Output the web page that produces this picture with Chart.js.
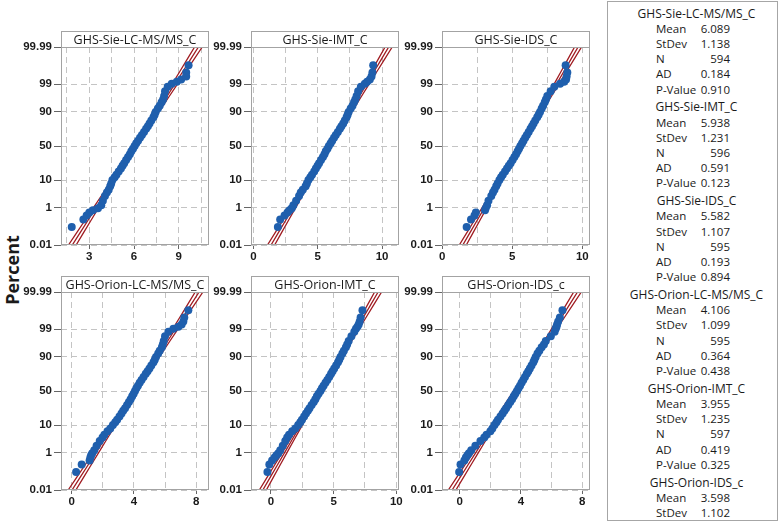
<!DOCTYPE html>
<html>
<head>
<meta charset="utf-8">
<script src="https://cdn.jsdelivr.net/npm/chart.js@4.4.1/dist/chart.umd.min.js"></script>
<style>
  body { margin: 0; background: #fff; }
  #page { position: relative; width: 778px; height: 523px; overflow: hidden; font-family: 'Open Sans', sans-serif; color: #1a1a1a; }
  #page canvas { position: absolute; }
  #ylabel { position: absolute; left: 12px; top: 270px; transform: translate(-50%, -50%) rotate(-90deg); font: bold 18px 'Open Sans', sans-serif; white-space: nowrap; }
  #stats { position: absolute; left: 607px; top: 1px; width: 169px; height: 518px; border: 1px solid #a6a6a6; overflow: hidden; font-size: 11.5px; }
  #stats div { position: absolute; height: 15px; line-height: 15px; white-space: nowrap; }
  #stats div.ttl { font-size: 12px; }
</style>
</head>
<body>
<div id="page">
  <div id="ylabel">Percent</div>
  <div id="stats"></div>
</div>
<script>
// series names and the summary table
const seriesNames = ['GHS-Sie-LC-MS/MS_C', 'GHS-Sie-IMT_C', 'GHS-Sie-IDS_C', 'GHS-Orion-LC-MS/MS_C', 'GHS-Orion-IMT_C', 'GHS-Orion-IDS_c'];
const statMean = [6.089, 5.938, 5.582, 4.106, 3.955, 3.598];
const statStDev = [1.138, 1.231, 1.107, 1.099, 1.235, 1.102];
const statN = [594, 596, 595, 595, 597, null];
const statAD = [0.184, 0.591, 0.193, 0.364, 0.419, null];
const statP = [0.910, 0.123, 0.894, 0.438, 0.325, null];

// probability axis
const yTickPct = [0.01, 1, 10, 50, 90, 99, 99.99];
const yTickLabels = ['0.01', '1', '10', '50', '90', '99', '99.99'];

// x axis labels per panel
const xTickLabels = [[3, 6, 9], [0, 5, 10], [0, 5, 10], [0, 4, 8], [0, 5, 10], [0, 4, 8]];

const pctLevels = [0.118, 0.286, 0.454, 0.622, 0.79, 0.96, 1.3, 2, 3, 4, 5, 6.5, 8, 10, 12, 14, 17, 20, 23, 26,
  30, 34, 38, 42, 46, 50, 54, 58, 62, 66, 70, 74, 77, 80, 83, 86, 88, 90, 92, 93.5,
  95, 96, 97, 98, 98.7, 99.04, 99.21, 99.38, 99.55, 99.71, 99.88];

const sieLcValues = [1.82, 2.6, 2.82, 3.0, 3.24, 3.58, 3.8, 3.91, 4.05, 4.18, 4.3, 4.4, 4.47, 4.55, 4.7, 4.82, 4.97, 5.12, 5.23, 5.34,
  5.47, 5.6, 5.72, 5.82, 5.93, 6.04, 6.15, 6.27, 6.4, 6.53, 6.67, 6.81, 6.93, 7.04, 7.16, 7.3, 7.38, 7.45, 7.6, 7.72,
  7.85, 7.95, 8.02, 8.08, 8.26, 8.53, 8.87, 9.16, 9.5, 9.5, 9.66];
const sieImtValues = [1.89, 2.07, 2.41, 2.64, 2.8, 2.97, 3.1, 3.31, 3.54, 3.67, 3.83, 4.05, 4.15, 4.27, 4.42, 4.55, 4.72, 4.85, 4.98, 5.1,
  5.25, 5.4, 5.52, 5.62, 5.75, 5.86, 6.0, 6.12, 6.26, 6.4, 6.56, 6.72, 6.84, 6.98, 7.1, 7.24, 7.32, 7.4, 7.56, 7.7,
  7.82, 7.92, 8.02, 8.14, 8.35, 8.66, 8.84, 9.05, 9.18, 9.25, 9.31];
const sieIdsValues = [1.74, 2.05, 2.3, 2.4, 3.05, 3.1, 3.2, 3.3, 3.5, 3.62, 3.73, 3.85, 3.95, 4.08, 4.2, 4.32, 4.48, 4.62, 4.75, 4.88,
  5.02, 5.15, 5.27, 5.38, 5.48, 5.58, 5.7, 5.8, 5.92, 6.04, 6.17, 6.3, 6.41, 6.52, 6.64, 6.78, 6.88, 6.98, 7.1, 7.2,
  7.32, 7.4, 7.5, 7.74, 8.0, 8.41, 8.7, 8.84, 8.88, 8.93, 8.81];
const orionLcValues = [0.28, 0.64, 1.15, 1.2, 1.25, 1.32, 1.45, 1.6, 1.8, 1.98, 2.1, 2.3, 2.48, 2.65, 2.8, 2.92, 3.07, 3.2, 3.31, 3.43,
  3.56, 3.68, 3.79, 3.89, 3.98, 4.07, 4.16, 4.26, 4.37, 4.49, 4.62, 4.76, 4.88, 5.0, 5.12, 5.26, 5.34, 5.42, 5.56, 5.66,
  5.8, 5.86, 5.92, 6.0, 6.22, 6.54, 6.86, 7.07, 7.18, 7.24, 7.5];
const orionImtValues = [-0.27, -0.12, 0.1, 0.3, 0.45, 0.6, 0.75, 0.95, 1.15, 1.3, 1.45, 1.7, 1.95, 2.18, 2.35, 2.48, 2.65, 2.8, 2.95, 3.08,
  3.25, 3.42, 3.55, 3.67, 3.8, 3.95, 4.07, 4.2, 4.35, 4.5, 4.65, 4.8, 4.92, 5.05, 5.2, 5.35, 5.45, 5.55, 5.7, 5.82,
  5.98, 6.08, 6.2, 6.42, 6.65, 6.78, 6.9, 7.0, 7.08, 7.15, 7.3];
const orionIdsValues = [-0.04, 0.05, 0.3, 0.4, 0.5, 0.6, 0.75, 1.02, 1.35, 1.6, 1.75, 2.0, 2.13, 2.27, 2.4, 2.5, 2.66, 2.8, 2.92, 3.03,
  3.17, 3.3, 3.42, 3.53, 3.63, 3.74, 3.84, 3.94, 4.04, 4.15, 4.26, 4.38, 4.48, 4.58, 4.69, 4.81, 4.88, 4.96, 5.08, 5.2,
  5.35, 5.5, 5.62, 5.95, 6.2, 6.27, 6.32, 6.36, 6.43, 6.54, 6.71];

const panelValues = [sieLcValues, sieImtValues, sieIdsValues, orionLcValues, orionImtValues, orionIdsValues];

// layout
const colLeft = [61, 251, 442];
const rowTop = [47, 292];
const plotW = 148, plotH = 198;
const padL = 52, padT = 18, padR = 10, padB = 24;
const xRange = [[1.1, 11.03], [-0.2, 11.32], [-0.02, 10.55], [-0.69, 8.83], [-1.58, 10.21], [-1.16, 8.51]];
const tickFont = "'Liberation Sans', Arial, sans-serif";

// inverse normal cdf (Acklam) for the probability scale
function probit(p) {
  const a = [-3.969683028665376e+01, 2.209460984245205e+02, -2.759285104469687e+02, 1.383577518672690e+02, -3.066479806614716e+01, 2.506628277459239e+00];
  const b = [-5.447609879822406e+01, 1.615858368580409e+02, -1.556989798598866e+02, 6.680131188771972e+01, -1.328068155288572e+01];
  const c = [-7.784894002430293e-03, -3.223964580411365e-01, -2.400758277161838e+00, -2.549732539343734e+00, 4.374664141464968e+00, 2.938163982698783e+00];
  const d = [7.784695709041462e-03, 3.224671290700398e-01, 2.445134137142996e+00, 3.754408661907416e+00];
  const plow = 0.02425;
  let q, r;
  if (p < plow) {
    q = Math.sqrt(-2 * Math.log(p));
    return (((((c[0] * q + c[1]) * q + c[2]) * q + c[3]) * q + c[4]) * q + c[5]) / ((((d[0] * q + d[1]) * q + d[2]) * q + d[3]) * q + 1);
  }
  if (p <= 1 - plow) {
    q = p - 0.5; r = q * q;
    return (((((a[0] * r + a[1]) * r + a[2]) * r + a[3]) * r + a[4]) * r + a[5]) * q / (((((b[0] * r + b[1]) * r + b[2]) * r + b[3]) * r + b[4]) * r + 1);
  }
  q = Math.sqrt(-2 * Math.log(1 - p));
  return -(((((c[0] * q + c[1]) * q + c[2]) * q + c[3]) * q + c[4]) * q + c[5]) / ((((d[0] * q + d[1]) * q + d[2]) * q + d[3]) * q + 1);
}

const zMin = probit(0.0001), zMax = probit(0.9999);

// frame + title bar
const framePlugin = {
  id: 'frame',
  afterDraw(chart, args, opts) {
    const ctx = chart.ctx, a = chart.chartArea;
    const l = Math.round(a.left) + 0.5, t = Math.round(a.top) + 0.5;
    const w = Math.round(a.width) - 1, h = Math.round(a.height) - 1;
    const th = 16;
    ctx.save();
    ctx.strokeStyle = '#a3a3a3';
    ctx.lineWidth = 1;
    ctx.strokeRect(l, t, w, h);
    ctx.strokeRect(l, t - th, w, th);
    ctx.fillStyle = '#1a1a1a';
    ctx.font = "12.5px 'Open Sans', sans-serif";
    ctx.textAlign = 'center';
    ctx.textBaseline = 'middle';
    ctx.fillText(opts.text, a.left + a.width / 2, a.top - th / 2 + 1);
    ctx.restore();
  }
};

const page = document.getElementById('page');

for (let i = 0; i < 6; i++) {
  const col = i % 3, row = Math.floor(i / 3);
  const canvas = document.createElement('canvas');
  canvas.width = padL + plotW + padR;
  canvas.height = padT + plotH + padB;
  canvas.style.left = (colLeft[col] - padL) + 'px';
  canvas.style.top = (rowTop[row] - padT) + 'px';
  page.appendChild(canvas);

  const majors = xTickLabels[i];
  const step = (majors[1] - majors[0]) / 2;
  const [xmin, xmax] = xRange[i];
  const gridVals = [];
  for (let v = Math.ceil(xmin / step) * step; v <= xmax; v += step) gridVals.push(+v.toFixed(4));

  const points = pctLevels.map((p, k) => ({ x: panelValues[i][k], y: probit(p / 100) }));

  // fitted normal line and 95% band from the table values
  const m = statMean[i], s = statStDev[i], n = statN[i] || 595;
  const zs = [];
  for (let k = 0; k <= 16; k++) zs.push(zMin + (zMax - zMin) * k / 16);
  const fit = zs.map(z => ({ x: m + s * z, y: z }));
  const lo = zs.map(z => ({ x: m + s * z - 1.96 * s * Math.sqrt((1 + z * z / 2) / n), y: z }));
  const hi = zs.map(z => ({ x: m + s * z + 1.96 * s * Math.sqrt((1 + z * z / 2) / n), y: z }));
  const lineStyle = { showLine: true, pointRadius: 0, borderColor: '#a01c22', borderWidth: 1.3, clip: 0 };

  new Chart(canvas, {
    type: 'scatter',
    data: {
      datasets: [
        { data: points, pointRadius: 4, pointBackgroundColor: '#1f5fad', pointBorderWidth: 0, clip: 0 },
        Object.assign({ data: fit }, lineStyle),
        Object.assign({ data: lo }, lineStyle),
        Object.assign({ data: hi }, lineStyle)
      ]
    },
    options: {
      responsive: false,
      animation: false,
      devicePixelRatio: 1,
      layout: { padding: { left: 0, top: padT, right: padR, bottom: 0 } },
      plugins: {
        legend: { display: false },
        tooltip: { enabled: false },
        frame: { text: seriesNames[i] }
      },
      scales: {
        x: {
          type: 'linear',
          min: xmin,
          max: xmax,
          afterBuildTicks: sc => { sc.ticks = gridVals.map(v => ({ value: v })); },
          afterFit: sc => { sc.height = padB; },
          ticks: {
            autoSkip: false, maxRotation: 0, padding: 1, color: '#1a1a1a',
            font: { family: tickFont, size: 11.5, weight: 'bold' },
            callback: v => majors.includes(v) ? String(v) : ''
          },
          grid: {
            color: '#c4c4c4', lineWidth: 1, tickLength: 4,
            tickColor: c => (c.tick && majors.includes(c.tick.value)) ? '#666' : 'rgba(0,0,0,0)'
          },
          border: { display: false, dash: [6, 4] }
        },
        y: {
          type: 'linear',
          min: zMin,
          max: zMax,
          afterBuildTicks: sc => { sc.ticks = yTickPct.map(p => ({ value: probit(p / 100) })); },
          afterFit: sc => { sc.width = padL; },
          ticks: {
            autoSkip: false, padding: 2, color: '#1a1a1a',
            font: { family: tickFont, size: 11.5, weight: 'bold' },
            callback: (v, idx) => yTickLabels[idx]
          },
          grid: { color: '#c4c4c4', lineWidth: 1, tickLength: 7, tickColor: '#666' },
          border: { display: false, dash: [6, 4] }
        }
      }
    },
    plugins: [framePlugin]
  });
}

// summary table on the right
const stats = document.getElementById('stats');
const rowH = 15.2, groupH = 93.8;
function addLine(text, top, css, cls) {
  const d = document.createElement('div');
  d.textContent = text;
  d.style.top = top + 'px';
  if (cls) d.className = cls;
  Object.assign(d.style, css);
  stats.appendChild(d);
}
seriesNames.forEach((name, g) => {
  const top0 = 3.5 + g * groupH;
  addLine(name, top0, { left: '4px', width: '169px', textAlign: 'center' }, 'ttl');
  const rows = [['Mean', statMean[g], 3], ['StDev', statStDev[g], 3], ['N', statN[g], 0], ['AD', statAD[g], 3], ['P-Value', statP[g], 3]];
  rows.forEach(([label, val, dec], k) => {
    if (val === null) return;
    const top = top0 + (k + 1) * rowH;
    addLine(label, top, { left: '48px' });
    addLine(val.toFixed(dec), top, { left: '70px', width: '52px', textAlign: 'right' });
  });
});
</script>
</body>
</html>
